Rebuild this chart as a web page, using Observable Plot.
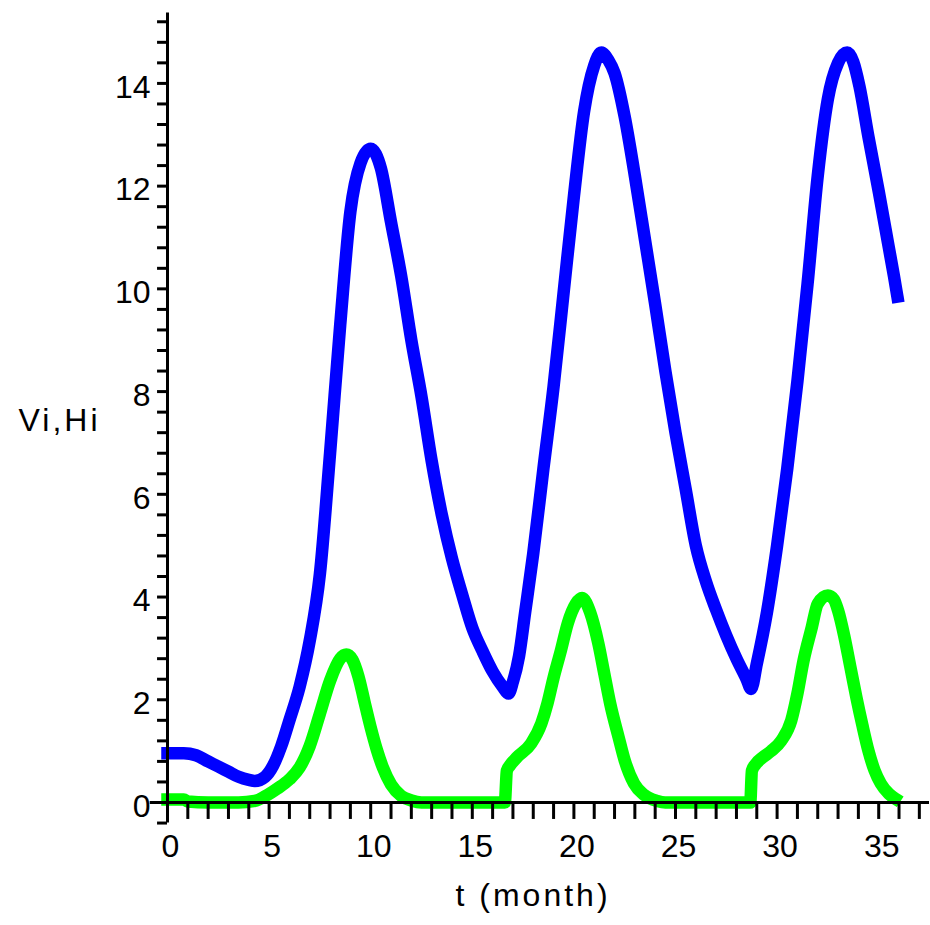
<!DOCTYPE html>
<html>
<head>
<meta charset="utf-8">
<script src="https://cdn.jsdelivr.net/npm/d3@7"></script>
<script src="https://cdn.jsdelivr.net/npm/@observablehq/plot@0.6"></script>
<style>
  html, body { margin: 0; padding: 0; background: #ffffff; }
  #chart { width: 930px; height: 925px; }
</style>
</head>
<body>
<div id="chart"></div>
<script>
// Vi (blue) series: time in months and values
const tVi = [0, 0.8, 1.4, 2.0, 2.5, 3.0, 3.5, 4.0, 4.3, 4.8, 5.2, 5.6, 6.0, 6.5, 7.0, 7.5, 8.0, 8.5, 9.0, 9.5, 10.0, 10.5, 11.0, 11.5, 12.0, 12.5, 13.0, 13.5, 14.0, 14.5, 15.0, 15.5, 16.0, 16.5, 16.78, 17.0, 17.3, 17.6, 18.0, 18.5, 19.0, 19.5, 20.0, 20.5, 21.0, 21.35, 21.7, 22.0, 22.5, 23.0, 23.5, 24.0, 24.5, 25.0, 25.5, 26.0, 26.5, 27.0, 27.5, 28.0, 28.5, 28.72, 29.0, 29.5, 30.0, 30.5, 31.0, 31.5, 32.0, 32.5, 33.0, 33.45, 33.75, 34.05, 34.5, 35.0, 35.5, 35.75, 35.92];
const vi  = [0.96, 0.96, 0.92, 0.8, 0.7, 0.6, 0.5, 0.44, 0.42, 0.5, 0.72, 1.1, 1.6, 2.25, 3.15, 4.45, 6.8, 9.3, 11.5, 12.45, 12.73, 12.35, 11.3, 10.25, 9.0, 7.9, 6.65, 5.6, 4.75, 4.05, 3.4, 2.95, 2.55, 2.25, 2.12, 2.35, 2.85, 3.7, 4.85, 6.5, 8.1, 9.95, 11.8, 13.45, 14.35, 14.6, 14.45, 14.2, 13.35, 12.2, 10.95, 9.7, 8.4, 7.2, 6.1, 5.0, 4.3, 3.75, 3.25, 2.8, 2.4, 2.21, 2.7, 3.7, 5.0, 6.5, 8.2, 10.1, 12.2, 13.7, 14.4, 14.6, 14.42, 13.95, 12.95, 11.9, 10.8, 10.25, 9.85];

// Hi (green) series
const tHi = [0, 0.8, 1.0, 2.0, 3.5, 4.3, 4.8, 5.4, 6.0, 6.5, 7.0, 7.5, 8.0, 8.5, 8.8, 9.1, 9.4, 9.7, 10.0, 10.3, 10.6, 11.0, 11.5, 12.0, 12.5, 16.6, 16.7, 16.85, 17.2, 17.9, 18.4, 18.7, 19.0, 19.36, 19.7, 20.1, 20.4, 20.8, 21.2, 21.5, 21.8, 22.2, 22.5, 22.96, 23.45, 24.1, 24.5, 28.68, 28.76, 28.95, 29.3, 29.7, 30.2, 30.7, 31.0, 31.3, 31.7, 32.0, 32.5, 32.8, 33.0, 33.3, 33.6, 33.9, 34.2, 34.5, 34.8, 35.1, 35.5, 35.8];
const hi  = [0.06, 0.06, 0.02, 0.0, 0.0, 0.03, 0.12, 0.27, 0.45, 0.68, 1.1, 1.73, 2.37, 2.8, 2.88, 2.78, 2.45, 1.95, 1.46, 1.03, 0.68, 0.35, 0.13, 0.04, 0.0, 0.0, 0.62, 0.72, 0.88, 1.15, 1.54, 1.93, 2.43, 2.96, 3.49, 3.87, 3.98, 3.7, 3.1, 2.5, 1.9, 1.27, 0.82, 0.37, 0.15, 0.03, 0.0, 0.0, 0.62, 0.75, 0.88, 1.0, 1.2, 1.6, 2.12, 2.76, 3.4, 3.87, 4.03, 3.95, 3.74, 3.25, 2.65, 2.05, 1.5, 1.0, 0.62, 0.37, 0.17, 0.08];

// ticks and labels
const xMinorTicks = d3.range(0, 38);
const xTickLabels = [0, 5, 10, 15, 20, 25, 30, 35];
const yMinorTicks = d3.range(-1, 39).map(i => +(i * 0.4).toFixed(1));
const yTickLabels = [0, 2, 4, 6, 8, 10, 12, 14];
const xLabel = "t (month)";
const yLabel = "Vi,Hi";

const viData = tVi.map((t, i) => ({t, v: vi[i]}));
const hiData = tHi.map((t, i) => ({t, v: hi[i]}));

const font = "'Liberation Sans', Arial, Helvetica, sans-serif";

const chart = Plot.plot({
  width: 930,
  height: 925,
  marginLeft: 167,
  marginRight: 1,
  marginTop: 11,
  marginBottom: 123,
  x: {domain: [0, 37.5], axis: null},
  y: {domain: [0, 15.4], axis: null},
  style: {fontFamily: font, fontSize: "32px", background: "#ffffff", color: "#000", overflow: "visible"},
  marks: [
    Plot.line(viData, {x: "t", y: "v", stroke: "#0000ff", strokeWidth: 12.5, curve: "monotone-x", strokeLinecap: "square", strokeLinejoin: "round"}),
    Plot.line(hiData, {x: "t", y: "v", stroke: "#00ff00", strokeWidth: 12.5, curve: "monotone-x", strokeLinecap: "square", strokeLinejoin: "round"}),
    // axes
    Plot.ruleX([0], {y1: -0.4, y2: 15.37, stroke: "#000", strokeWidth: 3}),
    Plot.ruleY([0], {x1: -0.85, x2: 37.5, stroke: "#000", strokeWidth: 3}),
    Plot.ruleY(yMinorTicks, {y: d => d, x1: -0.49, x2: 0, stroke: "#000", strokeWidth: 3}),
    Plot.ruleX(xMinorTicks, {x: d => d, y1: 0, y2: -0.33, stroke: "#000", strokeWidth: 3}),
    Plot.text(yTickLabels, {x: 0, y: d => d, text: d => String(d), textAnchor: "end", lineAnchor: "middle", dx: -17, dy: 4, fontSize: 32, fill: "#000"}),
    Plot.text(xTickLabels, {x: d => d, y: 0, text: d => String(d), lineAnchor: "middle", dx: 3, dy: 44, fontSize: 32, fill: "#000"}),
    Plot.text([yLabel], {frameAnchor: "top-left", text: d => d, textAnchor: "start", lineAnchor: "middle", dx: -149, dy: 409, fontSize: 32, fill: "#000"}),
    Plot.text([xLabel], {frameAnchor: "bottom-left", text: d => d, textAnchor: "start", lineAnchor: "middle", dx: 288, dy: 93, fontSize: 32, fill: "#000"})
  ]
});

d3.select(chart).selectAll("text")
  .filter(function() { return this.textContent === yLabel || this.textContent === xLabel; })
  .attr("letter-spacing", "3px");

document.getElementById("chart").appendChild(chart);
</script>
</body>
</html>
